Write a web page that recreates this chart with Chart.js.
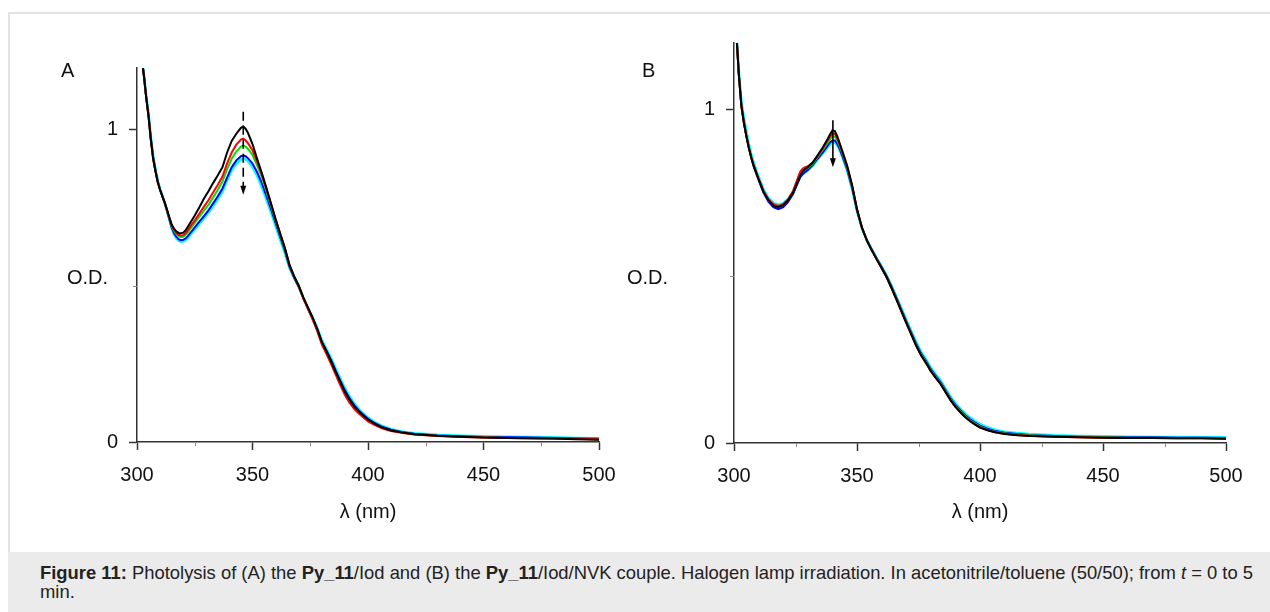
<!DOCTYPE html>
<html lang="en">
<head>
    <meta charset="UTF-8">
    <script src="https://cdn.jsdelivr.net/npm/chart.js@4.4.1/dist/chart.umd.min.js"></script>
    <title>Figure 11 - photolysis</title>
    <style>
        body { margin: 0; background: #fff; width: 1270px; height: 612px; overflow: hidden; position: relative; font-family: "Liberation Sans", Arial, sans-serif; }
        #frame { position: absolute; left: 8px; top: 12px; width: 1270px; height: 540px; border-left: 2px solid #e3e3e3; border-top: 2px solid #e3e3e3; box-sizing: border-box; }
        canvas { position: absolute; }
        .lbl { position: absolute; font-size: 20px; color: #111; line-height: 20px; }
        #caption { position: absolute; left: 8px; top: 552px; width: 1262px; height: 60px; background: #ebebeb; box-sizing: border-box; padding: 11px 0 0 32px; font-size: 18.4px; line-height: 19px; color: #222; white-space: nowrap; }
    </style>
</head>
<body>
    <div id="frame"></div>

    <canvas id="chartA" width="600" height="500" style="left:40px; top:40px;"></canvas>
    <canvas id="chartB" width="630" height="525" style="left:640px; top:15px;"></canvas>

    <div class="lbl" style="left:61px; top:60px;">A</div>
    <div class="lbl" style="left:642px; top:60px;">B</div>
    <div class="lbl" style="left:67px; top:267px;">O.D.</div>
    <div class="lbl" style="left:627px; top:267px;">O.D.</div>

    <div id="caption"><b>Figure 11:</b> Photolysis of (A) the <b>Py_11</b>/Iod and (B) the <b>Py_11</b>/Iod/NVK couple. Halogen lamp irradiation. In acetonitrile/toluene (50/50); from <i>t</i> = 0 to 5<br>min.</div>

    <script>
        // wavelengths (nm)
        const wlA = [302,303,304,305,306,307,308,309,310,311,312,313,314,315,316,317,318,319,320,321,322,323,
            325,327,329,331,333,335,337,339,341,343,345,346,347,348,
            350,352,354,356,358,360,362,364,366,368,370,372,374,376,378,380,382,384,386,388,390,392,394,396,398,
            400,403,406,410,415,420,430,440,450,460,470,480,490,500];

        // panel A, Py_11/Iod, O.D. per time step
        const blackA = [1.23,1.17,1.10,1.04,0.965,0.905,0.865,0.83,0.805,0.785,0.765,0.742,0.718,0.695,0.682,0.673,0.668,0.667,0.669,0.676,0.688,0.700,
            0.724,0.750,0.778,0.802,0.828,0.852,0.878,0.925,0.962,0.985,1.004,1.008,1.001,0.988,
            0.952,0.905,0.860,0.812,0.762,0.712,0.665,0.620,0.566,0.530,0.500,0.462,0.430,0.398,0.362,0.320,0.290,0.258,0.224,0.192,0.160,0.135,0.114,0.098,0.084,
            0.072,0.058,0.047,0.037,0.030,0.025,0.020,0.017,0.014,0.013,0.012,0.011,0.009,0.007];
        const redA = [1.23,1.17,1.10,1.04,0.965,0.905,0.865,0.83,0.805,0.785,0.765,0.741,0.716,0.692,0.678,0.668,0.662,0.660,0.661,0.667,0.677,0.688,
            0.708,0.730,0.752,0.773,0.798,0.822,0.848,0.890,0.925,0.950,0.966,0.969,0.964,0.955,
            0.932,0.896,0.856,0.810,0.762,0.712,0.666,0.620,0.565,0.528,0.497,0.458,0.425,0.392,0.355,0.312,0.282,0.250,0.215,0.182,0.150,0.126,0.106,0.091,0.078,
            0.066,0.054,0.044,0.035,0.029,0.024,0.019,0.016,0.014,0.013,0.012,0.011,0.010,0.009];
        const greenA = [1.23,1.17,1.10,1.04,0.965,0.905,0.865,0.83,0.805,0.785,0.765,0.741,0.715,0.690,0.675,0.664,0.657,0.655,0.656,0.661,0.670,0.680,
            0.700,0.720,0.740,0.758,0.782,0.806,0.832,0.872,0.905,0.928,0.944,0.947,0.944,0.937,
            0.917,0.884,0.847,0.802,0.756,0.707,0.661,0.617,0.565,0.530,0.500,0.462,0.428,0.395,0.358,0.316,0.286,0.254,0.220,0.188,0.156,0.132,0.111,0.095,0.081,
            0.069,0.056,0.046,0.036,0.030,0.025,0.020,0.017,0.015,0.013,0.012,0.011,0.010,0.009];
        const blueA = [1.23,1.17,1.10,1.045,0.97,0.91,0.868,0.832,0.806,0.785,0.763,0.738,0.712,0.686,0.668,0.656,0.648,0.645,0.646,0.650,0.658,0.667,
            0.686,0.704,0.722,0.741,0.763,0.785,0.810,0.845,0.878,0.900,0.913,0.915,0.913,0.907,
            0.890,0.862,0.828,0.787,0.745,0.700,0.655,0.612,0.560,0.526,0.497,0.460,0.427,0.395,0.360,0.320,0.292,0.262,0.228,0.196,0.165,0.140,0.118,0.101,0.087,
            0.074,0.060,0.049,0.039,0.031,0.026,0.021,0.018,0.016,0.015,0.014,0.013,0.011,0.010];
        const cyanA = [1.23,1.175,1.105,1.05,0.975,0.915,0.872,0.836,0.809,0.787,0.764,0.737,0.710,0.683,0.664,0.651,0.643,0.640,0.641,0.645,0.652,0.661,
            0.679,0.697,0.715,0.733,0.754,0.776,0.800,0.836,0.868,0.890,0.903,0.905,0.903,0.897,
            0.879,0.850,0.815,0.775,0.734,0.690,0.646,0.604,0.556,0.523,0.495,0.460,0.428,0.398,0.365,0.326,0.298,0.268,0.235,0.203,0.172,0.146,0.124,0.106,0.091,
            0.078,0.063,0.052,0.041,0.033,0.028,0.023,0.020,0.018,0.017,0.016,0.015,0.013,0.012];

        const wlB = [301,302,303,304,305,306,307,308,310,312,314,316,318,320,322,324,
            326,327,328,329,330,332,334,336,338,339,340,341,342,343,344,
            346,348,350,352,354,356,358,360,362,364,366,368,370,372,374,376,378,380,382,384,386,388,390,392,394,396,398,400,
            403,406,410,415,420,430,440,450,460,470,480,490,500];

        // panel B, Py_11/Iod/NVK
        const blackB = [1.22,1.10,1.01,0.96,0.92,0.885,0.855,0.83,0.79,0.752,0.727,0.711,0.706,0.712,0.727,0.749,
            0.785,0.803,0.814,0.821,0.826,0.840,0.862,0.884,0.910,0.924,0.936,0.934,0.918,0.897,0.875,
            0.830,0.772,0.700,0.645,0.607,0.577,0.550,0.524,0.497,0.465,0.430,0.395,0.360,0.326,0.292,0.263,0.240,0.215,0.195,0.176,0.152,0.128,0.108,0.092,0.077,0.065,0.055,0.046,
            0.038,0.032,0.027,0.023,0.021,0.019,0.017,0.016,0.015,0.015,0.014,0.014,0.013];
        const redB = [1.22,1.10,1.01,0.96,0.92,0.886,0.857,0.832,0.792,0.755,0.730,0.715,0.710,0.715,0.730,0.755,
            0.795,0.814,0.822,0.826,0.829,0.840,0.860,0.881,0.905,0.917,0.927,0.926,0.912,0.893,0.872,
            0.828,0.771,0.700,0.646,0.607,0.577,0.550,0.524,0.497,0.465,0.431,0.396,0.361,0.327,0.293,0.264,0.241,0.216,0.196,0.177,0.153,0.129,0.109,0.093,0.078,0.066,0.056,0.047,
            0.039,0.033,0.028,0.024,0.022,0.019,0.017,0.016,0.015,0.015,0.014,0.014,0.013];
        const greenB = [1.22,1.10,1.01,0.961,0.921,0.886,0.856,0.831,0.791,0.753,0.728,0.712,0.708,0.713,0.728,0.751,
            0.787,0.804,0.813,0.819,0.824,0.836,0.857,0.877,0.899,0.910,0.918,0.918,0.906,0.888,0.868,
            0.825,0.769,0.699,0.645,0.607,0.578,0.551,0.525,0.498,0.466,0.432,0.397,0.362,0.328,0.295,0.266,0.243,0.218,0.198,0.179,0.155,0.131,0.111,0.095,0.080,0.068,0.058,0.049,
            0.040,0.034,0.029,0.025,0.023,0.020,0.018,0.017,0.016,0.016,0.015,0.015,0.014];
        const blueB = [1.22,1.10,1.012,0.962,0.921,0.885,0.854,0.828,0.787,0.749,0.723,0.706,0.700,0.706,0.722,0.746,
            0.780,0.797,0.806,0.812,0.818,0.832,0.852,0.870,0.890,0.900,0.906,0.906,0.896,0.880,0.861,
            0.820,0.765,0.697,0.645,0.608,0.580,0.553,0.527,0.500,0.469,0.435,0.400,0.365,0.331,0.298,0.269,0.246,0.221,0.201,0.182,0.158,0.134,0.114,0.098,0.083,0.071,0.061,0.052,
            0.043,0.036,0.031,0.027,0.024,0.021,0.019,0.018,0.017,0.017,0.016,0.016,0.015];
        const cyanB = [1.23,1.11,1.025,0.975,0.935,0.898,0.866,0.840,0.798,0.760,0.734,0.719,0.714,0.718,0.731,0.752,
            0.783,0.798,0.806,0.812,0.817,0.830,0.849,0.867,0.885,0.894,0.900,0.900,0.891,0.876,0.857,
            0.815,0.760,0.693,0.643,0.607,0.580,0.554,0.529,0.503,0.472,0.438,0.404,0.370,0.336,0.303,0.274,0.251,0.226,0.206,0.187,0.163,0.139,0.119,0.103,0.088,0.076,0.066,0.057,
            0.047,0.040,0.034,0.030,0.027,0.023,0.021,0.020,0.019,0.018,0.018,0.017,0.017];

        const colors = ['#000000', '#ff0000', '#00e000', '#0000ff', '#00ffff'];

        // axis ticks
        const xMajor = [300, 350, 400, 450, 500];
        const xMinor = [325, 375, 425, 475];
        const yMajor = [0, 1];
        const yMinor = [0.5];

        // arrow: [wavelength, from O.D., to O.D.]
        const arrowA = [346, 1.055, 0.79];
        const arrowB = [340.2, 0.967, 0.826];

        Chart.defaults.font.family = "'Liberation Sans', Arial, sans-serif";
        Chart.defaults.color = '#111';

        const extras = {
            id: 'extras',
            afterDraw(chart, args, opts) {
                const ctx = chart.ctx;
                const x = chart.scales.x, y = chart.scales.y;
                ctx.save();
                ctx.strokeStyle = '#888';
                ctx.lineWidth = 1;
                xMinor.forEach(v => {
                    const px = Math.round(x.getPixelForValue(v)) + 0.5;
                    ctx.beginPath(); ctx.moveTo(px, y.bottom); ctx.lineTo(px, y.bottom + 4); ctx.stroke();
                });
                yMinor.forEach(v => {
                    const py = Math.round(y.getPixelForValue(v)) + 0.5;
                    ctx.beginPath(); ctx.moveTo(x.left, py); ctx.lineTo(x.left - 4, py); ctx.stroke();
                });
                // arrow
                const a = opts.arrow;
                const ax = x.getPixelForValue(a[0]);
                const y1 = y.getPixelForValue(a[1]);
                const y2 = y.getPixelForValue(a[2]);
                ctx.strokeStyle = '#000';
                ctx.fillStyle = '#000';
                ctx.lineWidth = 1.6;
                ctx.setLineDash(opts.dash);
                ctx.beginPath(); ctx.moveTo(ax, y1); ctx.lineTo(ax, y2 - 7); ctx.stroke();
                ctx.setLineDash([]);
                ctx.beginPath(); ctx.moveTo(ax - 3, y2 - 9); ctx.lineTo(ax + 3, y2 - 9); ctx.lineTo(ax, y2); ctx.closePath(); ctx.fill();
                ctx.restore();
            }
        };

        function makeChart(id, wl, series, dims, arrow, dash) {
            const datasets = series.map((vals, i) => ({
                data: wl.map((w, j) => ({x: w, y: vals[j]})),
                borderColor: colors[i],
                borderWidth: i == 4 ? 2.5 : 2,
                pointRadius: 0,
                tension: 0,
                fill: false
            }));
            const config = {
                type: 'line',
                data: {datasets: datasets},
                options: {
                    responsive: false,
                    animation: false,
                    layout: {padding: {top: dims.top, right: dims.right, left: 0, bottom: 0}},
                    plugins: {
                        legend: {display: false},
                        tooltip: {enabled: false},
                        extras: {arrow: arrow, dash: dash}
                    },
                    scales: {
                        x: {
                            type: 'linear',
                            min: 300,
                            max: 500,
                            afterFit: s => { s.height = dims.xh; },
                            afterBuildTicks: s => { s.ticks = xMajor.map(v => ({value: v})); },
                            border: {color: '#333', width: 1.5},
                            grid: {drawOnChartArea: false, tickLength: 8, tickColor: '#333', tickWidth: 1.5},
                            ticks: {font: {size: 20}, color: '#111', padding: 13, maxRotation: 0},
                            title: {display: true, text: 'λ (nm)', font: {size: 20}, color: '#111', padding: {top: 0, bottom: 16}}
                        },
                        y: {
                            min: 0,
                            max: dims.ymax,
                            afterFit: s => { s.width = dims.yw; },
                            afterBuildTicks: s => { s.ticks = yMajor.map(v => ({value: v})); },
                            border: {color: '#333', width: 1.5},
                            grid: {drawOnChartArea: false, tickLength: 8, tickColor: '#333', tickWidth: 1.5},
                            ticks: {font: {size: 20}, color: '#111', padding: 11}
                        }
                    }
                },
                plugins: [extras]
            };
            return new Chart(document.getElementById(id), config);
        }

        makeChart('chartA', wlA, [blackA, redA, greenA, blueA, cyanA],
            {top: 28, right: 41, xh: 98, yw: 97, ymax: 1.195}, arrowA, [9, 5]);
        makeChart('chartB', wlB, [blackB, redB, greenB, blueB, cyanB],
            {top: 28, right: 44, xh: 97, yw: 94, ymax: 1.198}, arrowB, []);
    </script>
</body>
</html>
